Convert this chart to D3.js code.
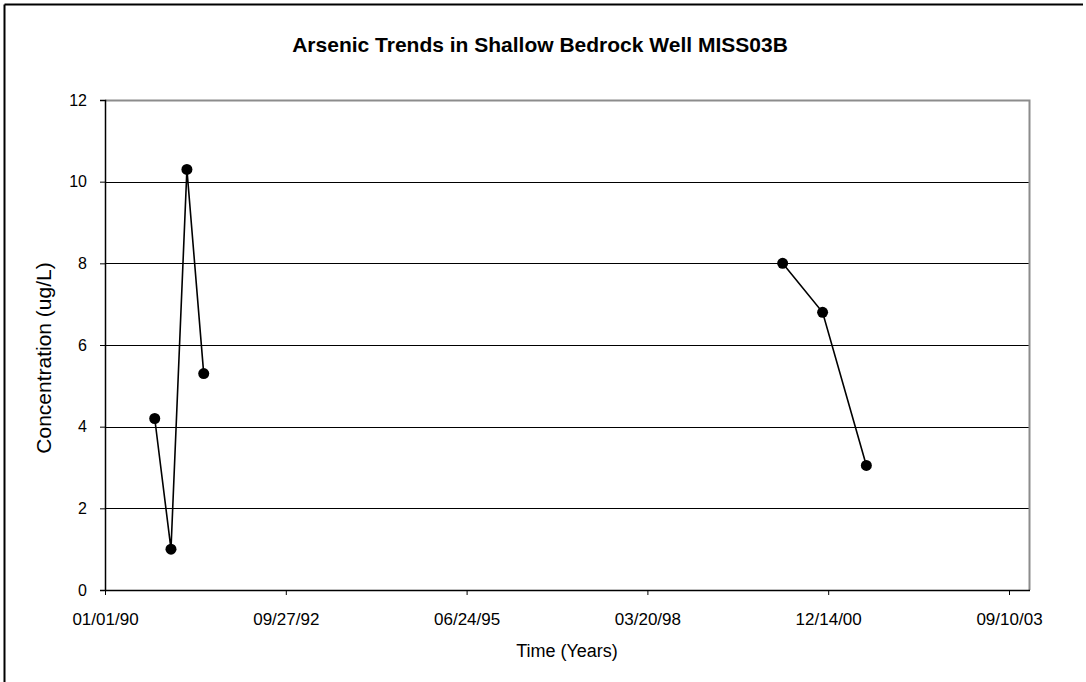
<!DOCTYPE html>
<html>
<head>
<meta charset="utf-8">
<script src="https://cdn.jsdelivr.net/npm/d3@7"></script>
<style>
  html, body { margin: 0; padding: 0; background: #fff; }
  svg { display: block; font-family: "Liberation Sans", Arial, sans-serif; }
</style>
</head>
<body>
<svg id="chart" width="1086" height="682"></svg>
<script>
// ---- data ----
const sampleDates = ["1990-10-03", "1991-01-01", "1991-03-30", "1991-07-01", "2000-04-06", "2000-11-13", "2001-07-13"];
const arsenicValues = [4.2, 1.0, 10.3, 5.3, 8.0, 6.8, 3.05];
const segments = [[0, 1, 2, 3], [4, 5, 6]];
const xTickLabels = ["01/01/90", "09/27/92", "06/24/95", "03/20/98", "12/14/00", "09/10/03"];
const yTicks = [0, 2, 4, 6, 8, 10, 12];
const titleText = "Arsenic Trends in Shallow Bedrock Well MISS03B";
const xTitle = "Time (Years)";
const yTitle = "Concentration (ug/L)";

(function () {
const parse = d3.utcParse("%Y-%m-%d");
const parseTick = d3.utcParse("%m/%d/%y");
const points = sampleDates.map((d, i) => ({ date: parse(d), value: arsenicValues[i] }));
const tickDates = xTickLabels.map(t => parseTick(t));

const svg = d3.select("#chart");
const pl = 105, pr = 1030, pt = 100, pb = 590;

const x = d3.scaleUtc()
  .domain([tickDates[0], tickDates[tickDates.length - 1]])
  .range([pl, 1009]);
const y = d3.scaleLinear().domain([0, 12]).range([pb, pt]);

// outer frame
svg.append("line").attr("x1", 4.5).attr("x2", 1083).attr("y1", 4.5).attr("y2", 4.5)
  .attr("stroke", "#000").attr("stroke-width", 2);
svg.append("line").attr("x1", 4.5).attr("x2", 4.5).attr("y1", 4.5).attr("y2", 682)
  .attr("stroke", "#000").attr("stroke-width", 2);

// gridlines
svg.append("g").selectAll("line").data(yTicks.filter(t => t > 0 && t < 12)).join("line")
  .attr("x1", pl).attr("x2", pr)
  .attr("y1", d => Math.round(y(d)) + 0.5).attr("y2", d => Math.round(y(d)) + 0.5)
  .attr("stroke", "#000").attr("stroke-width", 1);

// plot border top & right (gray)
svg.append("path")
  .attr("d", `M${pl},${pt + 0.5}H${pr - 0.5}V${pb}`)
  .attr("fill", "none").attr("stroke", "#8c8c8c").attr("stroke-width", 2);

// y axis
const yAxis = d3.axisLeft(y).tickValues(yTicks).tickSize(5).tickPadding(13).tickFormat(d3.format("d"));
const gy = svg.append("g").attr("transform", `translate(${pl},0)`).call(yAxis);
gy.select(".domain").attr("stroke", "#000").attr("stroke-width", 1.5);
gy.selectAll(".tick line").attr("stroke", "#000");
gy.selectAll("text").attr("font-size", 16).attr("fill", "#000")
  .attr("font-family", "Liberation Sans, Arial, sans-serif");

// x axis
const xAxis = d3.axisBottom(x).tickValues(tickDates).tickSize(5).tickPadding(18)
  .tickFormat((d, i) => xTickLabels[i]);
const gx = svg.append("g").attr("transform", `translate(0,${pb})`).call(xAxis);
gx.select(".domain").attr("d", `M${pl},0.5H${pr}`).attr("stroke", "#000").attr("stroke-width", 1.5);
gx.selectAll(".tick line").attr("stroke", "#000");
gx.selectAll("text").attr("font-size", 17).attr("fill", "#000")
  .attr("font-family", "Liberation Sans, Arial, sans-serif");

// series lines
const line = d3.line().x(d => x(d.date)).y(d => y(d.value));
svg.append("g").selectAll("path").data(segments.map(s => s.map(i => points[i]))).join("path")
  .attr("d", line).attr("fill", "none").attr("stroke", "#000").attr("stroke-width", 1.6);

// markers
svg.append("g").selectAll("circle").data(points).join("circle")
  .attr("cx", d => x(d.date)).attr("cy", d => y(d.value)).attr("r", 5.5)
  .attr("fill", "#000");

// titles
svg.append("text").attr("x", 540).attr("y", 52).attr("text-anchor", "middle")
  .attr("font-size", 21).attr("font-weight", "bold").text(titleText);
svg.append("text").attr("x", 567).attr("y", 657).attr("text-anchor", "middle")
  .attr("font-size", 18).text(xTitle);
svg.append("text").attr("transform", `translate(51,358) rotate(-90)`)
  .attr("text-anchor", "middle").attr("font-size", 21).text(yTitle);
})();
</script>
</body>
</html>
